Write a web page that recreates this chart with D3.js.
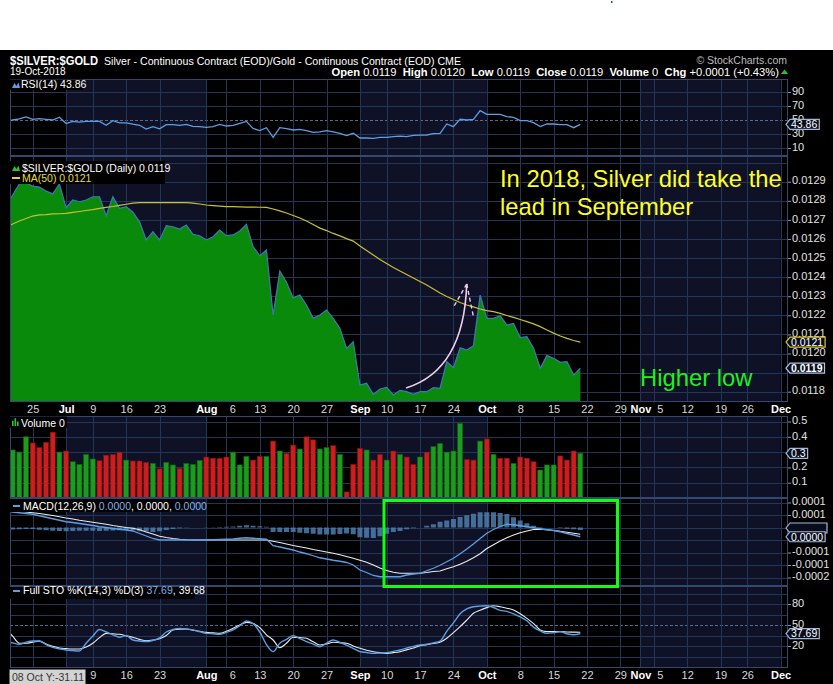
<!DOCTYPE html>
<html><head><meta charset="utf-8">
<script src="https://cdn.jsdelivr.net/npm/d3@7/dist/d3.min.js"></script>
<style>
html,body{margin:0;padding:0;background:#fff;}
svg{display:block;font-family:"Liberation Sans",Arial,sans-serif;}
</style></head><body>
<svg id="chart" width="833" height="684"></svg>
<script>
// ---------------- DATA ----------------
const firstDay = "2018-06-19", lastAxisDay = "2018-12-04";
const holidays = ["2018-07-04","2018-09-03","2018-11-22"];

const price = [0.012773,0.012830,0.012888,0.012893,0.012877,0.012872,0.012851,0.012836,0.012888,
0.012764,0.012804,0.012795,0.012804,0.012821,0.012821,0.012722,0.012821,0.012761,0.012769,0.012740,0.012690,0.012595,0.012638,0.012595,0.012670,0.012664,0.012652,0.012673,0.012624,0.012617,
0.012595,0.012612,0.012647,0.012617,0.012621,0.012642,0.012677,0.012560,0.012512,0.012542,0.012202,0.012432,0.012373,0.012292,0.012306,0.012254,0.012184,0.012202,0.012228,0.012184,0.012132,0.012027,0.012062,
0.011835,0.011844,0.011786,0.011814,0.011823,0.011783,0.011807,0.011800,0.011786,0.011800,0.011800,0.011821,0.011818,0.011957,0.011926,0.012030,0.012018,0.012041,0.012306,
0.012184,0.012184,0.012198,0.012149,0.012158,0.012083,0.012088,0.012027,0.011923,0.011989,0.011975,0.011954,0.011957,0.011887,0.011923];

const ma50 = [0.012663,0.012678,0.012694,0.012707,0.012720,0.012726,0.012728,0.012731,0.012732,
0.012734,0.012739,0.012744,0.012749,0.012754,0.012760,0.012765,0.012770,0.012776,0.012782,0.012788,0.012790,0.012790,0.012790,0.012790,0.012790,0.012790,0.012790,0.012790,0.012788,0.012783,
0.012778,0.012775,0.012772,0.012769,0.012769,0.012768,0.012767,0.012767,0.012766,0.012765,0.012757,0.012747,0.012736,0.012723,0.012710,0.012694,0.012676,0.012657,0.012644,0.012629,0.012616,0.012602,0.012589,
0.012563,0.012540,0.012516,0.012492,0.012472,0.012451,0.012432,0.012414,0.012396,0.012377,0.012359,0.012338,0.012317,0.012299,0.012283,0.012267,0.012254,0.012244,0.012233,
0.012225,0.012219,0.012210,0.012199,0.012189,0.012178,0.012167,0.012155,0.012141,0.012123,0.012107,0.012092,0.012079,0.012068,0.012060];

const rsi = [48,50,51.5,54.5,51,52,51,50,54,
45,48,47,48,48,48,42.5,49,46,46,44,42.5,37,40.5,37.5,43.3,43.3,42.4,43.8,41,40.5,
39.5,40.5,43.8,41.4,42.4,45.2,48,38,34.8,39,25.2,39,37.6,35.7,36.7,34.8,32.4,32.9,34.8,32.9,31,27.6,31,
24.3,24.3,23.8,25.2,25.2,26.2,27.1,26.2,28.1,28.3,28.6,30.5,31,44.3,40.5,51,50,51,63.3,
58.1,58.1,58.1,54.8,53.8,49,49,46.2,40.5,44.3,44.3,43.3,43.3,39,43.86];

const volume = [0.30,0.314,0.30,0.40,0.36,0.33,0.364,0.43,0.30,
0.307,0.237,0.22,0.285,0.255,0.244,0.28,0.285,0.30,0.248,0.242,0.242,0.233,0.226,0.19,0.233,0.216,0.194,0.226,0.22,0.246,
0.268,0.26,0.26,0.268,0.30,0.216,0.272,0.248,0.272,0.272,0.372,0.307,0.292,0.346,0.32,0.40,0.38,0.32,0.33,0.342,0.285,0.04,0.22,
0.325,0.314,0.248,0.285,0.248,0.307,0.285,0.268,0.22,0.268,0.30,0.336,0.357,0.30,0.307,0.488,0.253,0.248,0.372,
0.386,0.285,0.26,0.26,0.226,0.268,0.26,0.237,0.183,0.216,0.216,0.275,0.248,0.307,0.292];
// 1 = up (green), 0 = down (red)
const volUp = [1,1,1,1,0,0,0,0,1,
0,1,1,1,1,0,0,0,0,1,0,0,0,1,0,1,1,0,1,1,1,
0,0,0,0,1,1,1,0,0,1,0,1,0,0,1,0,0,1,1,0,1,0,0,
0,1,0,0,1,0,1,0,0,1,0,1,1,1,1,1,0,0,
1,0,1,0,0,1,0,0,0,1,1,1,0,0,0,1];

const macd = [6.5e-5,6.2e-5,5.9e-5,5.6e-5,5.3e-5,4.7e-5,4.1e-5,3.5e-5,2.9e-5,
2.3e-5,2.0e-5,1.6e-5,1.2e-5,0.8e-5,0.3e-5,0,-0.4e-5,-0.7e-5,-1.0e-5,-1.4e-5,-2.4e-5,-3.4e-5,-4.4e-5,-5e-5,-5e-5,-5e-5,-5e-5,-5e-5,-5e-5,-5e-5,
-4.9e-5,-4.9e-5,-4.8e-5,-4.7e-5,-4.6e-5,-4.3e-5,-4.1e-5,-4.3e-5,-4.5e-5,-4.7e-5,-7.3e-5,-7.8e-5,-8.4e-5,-9e-5,-9.8e-5,-10.5e-5,-11.3e-5,-12.1e-5,-12.6e-5,-13.1e-5,-13.5e-5,-14e-5,-15e-5,
-17e-5,-18e-5,-19.2e-5,-19.7e-5,-19.7e-5,-19.7e-5,-19.7e-5,-19.0e-5,-18.6e-5,-18.3e-5,-17.3e-5,-16.3e-5,-15.1e-5,-13.7e-5,-12.3e-5,-10.5e-5,-8.6e-5,-6.6e-5,-4.4e-5,
-2.3e-5,-0.8e-5,0.4e-5,1.3e-5,1.1e-5,0.7e-5,0.3e-5,-0.1e-5,-0.5e-5,-0.9e-5,-1.2e-5,-1.7e-5,-2.4e-5,-3.0e-5,-3.7e-5];

const macdSignal = [7.2e-5,7.0e-5,6.6e-5,6.2e-5,5.9e-5,5.6e-5,5.2e-5,4.8e-5,4.3e-5,
3.8e-5,3.4e-5,2.9e-5,2.5e-5,2.1e-5,1.7e-5,1.3e-5,0.8e-5,0.4e-5,0,-0.3e-5,-0.9e-5,-1.8e-5,-2.6e-5,-3.5e-5,-4.0e-5,-4.4e-5,-4.7e-5,-4.9e-5,-5e-5,-5e-5,
-5e-5,-5e-5,-5e-5,-5e-5,-5e-5,-5e-5,-5e-5,-5e-5,-5e-5,-5e-5,-5.5e-5,-6e-5,-6.6e-5,-7.2e-5,-7.7e-5,-8.2e-5,-8.8e-5,-9.3e-5,-9.8e-5,-10.3e-5,-10.9e-5,-11.6e-5,-12.3e-5,
-13.1e-5,-13.9e-5,-15e-5,-16.2e-5,-17.2e-5,-17.9e-5,-18.3e-5,-18.3e-5,-18.3e-5,-18.3e-5,-18.0e-5,-17.6e-5,-17.4e-5,-16.5e-5,-15.7e-5,-14.7e-5,-13.5e-5,-12.1e-5,-10.5e-5,
-8.4e-5,-6.9e-5,-5.4e-5,-4.1e-5,-3.0e-5,-2.1e-5,-1.4e-5,-0.8e-5,-0.7e-5,-0.9e-5,-1.2e-5,-1.5e-5,-1.9e-5,-2.3e-5,-2.7e-5];

const stoK = [27,24.5,22.4,25.5,27.1,27.1,22,18,16,
14.3,13.5,12.9,24,34,43.5,40,36,32.5,34.8,28.6,27.2,26.2,28,31.5,40,43.5,45.2,44.5,43,40.5,
38.1,37.5,36.7,39.5,43,49,55.7,52,40,22,12,24,29.5,34.8,30.5,26.3,22.7,19,24,28.6,25,21.4,16.5,
12,10.7,9.5,10,10.5,12.4,14.3,17,19.5,21.4,22.5,24.5,27.1,41,53,66,73,76,77,
77.6,75,71,69.5,66,61.5,56,47,41.5,38.1,39,40.5,37.5,36,37.69];

const stoD = [45,34,24,23.9,25.5,27,23,19.5,17,
16.2,15.7,15.7,18.5,24,32,38.1,37.4,36.7,34.5,32.4,29.5,27.6,28.5,30.5,35,42.9,44,44.3,42.5,41,
39.5,38.8,38.1,41,45.2,50,53.8,52,46.2,36,28.6,17.6,24,32.4,32,31,26,21.4,23,25.3,24.6,24,20,
16.7,14,11.9,10.5,9.5,10.5,11.9,14.5,17,20.5,22,23.5,25.3,31,39,47.6,57,66.7,71,
74.8,77.6,76,74,71.4,66,59.5,52,43,40.5,40.5,40.5,40,39.8,39.68];

const tickDates = ["2018-06-25","2018-07-02","2018-07-09","2018-07-16","2018-07-23","2018-08-01","2018-08-06","2018-08-13","2018-08-20","2018-08-27","2018-09-04","2018-09-10","2018-09-17","2018-09-24","2018-10-01","2018-10-08","2018-10-15","2018-10-22","2018-10-29","2018-11-01","2018-11-05","2018-11-12","2018-11-19","2018-11-26","2018-12-03"];
const tickLabels = ["25","Jul","9","16","23","Aug","6","13","20","27","Sep","10","17","24","Oct","8","15","22","29","Nov","5","12","19","26","Dec"];

const priceTicks = [0.0118,0.0120,0.0121,0.0122,0.0123,0.0124,0.0125,0.0126,0.0127,0.0128,0.0129];
const priceGrid = [0.0118,0.0119,0.0120,0.0121,0.0122,0.0123,0.0124,0.0125,0.0126,0.0127,0.0128,0.0129,0.0130];
const rsiTicks = [10,30,50,70,90];
const volTicks = [0.1,0.2,0.4,0.5];
const volGrid = [0.1,0.2,0.3,0.4,0.5];
const macdTicks = [0.0001,0.00005,-0.0001,-0.00015,-0.0002];
const macdTickLabels = ["0.0001","0.0001","-0.0001","-0.0001","-0.0002"];
const macdGrid = [0.0001,0.00005,0,-0.00005,-0.0001,-0.00015,-0.0002];
const stoTicks = [20,50,80];
const stoGrid = [5,20,35,50,65,80,95];

// ---------------- SETUP ----------------
const W = 833, H = 684, L = 10, R = 788;
const C = {navy:"#0f1127", grid:"#233656", border:"#34486e", txt:"#e2e2e2",
  green:"#0a8a0a", priceLine:"#3f78b8", ma:"#cbbf34", blue:"#5b9fe4", white:"#ececec"};
const P = {rsi:[79,156], main:[156,402], vol:[416,498], macd:[498,586], sto:[586,668]};

const svg = d3.select("#chart");
svg.append("rect").attr("width",W).attr("height",H).attr("fill","#fff");
svg.append("rect").attr("y",50).attr("width",W).attr("height",H-50).attr("fill","#000");
svg.append("rect").attr("x",611).attr("y",1).attr("width",1.5).attr("height",2).attr("fill","#2a4fc0");

const fmtDay = d3.timeFormat("%Y-%m-%d");
const parse = d3.timeParse("%Y-%m-%d");
const cal = d3.timeDay.range(parse(firstDay), d3.timeDay.offset(parse(lastAxisDay),1))
  .filter(d => d.getDay()!==0 && d.getDay()!==6 && !holidays.includes(fmtDay(d))).map(fmtDay);
const di = s => cal.indexOf(s);
const x = d3.scaleLinear().domain([0.6,117.1]).range([L,R]);
const n = price.length;

const tickIdx = tickDates.map(di);
const mStarts = [];
cal.forEach((d,i)=>{ if(i>0 && d.slice(5,7)!==cal[i-1].slice(5,7)) mStarts.push(i); });
const bands = [];
mStarts.forEach((s,k)=>{
  const m = +cal[s].slice(5,7);
  if (m % 2 === 1) { const e = k+1 < mStarts.length ? mStarts[k+1] : 117.1; bands.push([s,e]); }
});

const defs = svg.append("defs");
function panel(key, yScale, grid, dashVal){
  const [t,b] = P[key];
  const g = svg.append("g");
  bands.forEach(([a,c])=>{
    const x0 = Math.max(L,x(a)), x1 = Math.min(R,x(c));
    g.append("rect").attr("x",x0).attr("y",t).attr("width",x1-x0).attr("height",b-t).attr("fill",C.navy);
  });
  grid.forEach(v=>{
    const yy = Math.round(yScale(v))+0.5;
    if (yy<t || yy>b) return;
    g.append("line").attr("x1",L).attr("x2",R).attr("y1",yy).attr("y2",yy)
      .attr("stroke", v===dashVal ? "#5a6a88" : C.grid).attr("stroke-width",1)
      .attr("stroke-dasharray", v===dashVal ? "3,2" : null);
  });
  tickIdx.forEach(i=>{
    const xx = Math.round(x(i))+0.5;
    g.append("line").attr("x1",xx).attr("x2",xx).attr("y1",t).attr("y2",b).attr("stroke",C.grid);
  });
  g.append("rect").attr("x",L+0.5).attr("y",t+0.5).attr("width",R-L-1).attr("height",b-t-1)
    .attr("fill","none").attr("stroke",C.border);
  defs.append("clipPath").attr("id","clip-"+key).append("rect").attr("x",L+1).attr("y",t+1).attr("width",R-L-2).attr("height",b-t-2);
  return svg.append("g").attr("clip-path","url(#clip-"+key+")");
}
function rightAxis(yScale, vals, labels){
  const ax = d3.axisRight(yScale).tickValues(vals).tickSize(3).tickPadding(1)
    .tickFormat((d,i)=>labels ? labels[i] : d);
  const g = svg.append("g").attr("transform",`translate(${R},0)`).call(ax);
  g.select(".domain").remove();
  g.selectAll("line").attr("stroke","#8a93a8");
  g.selectAll("text").attr("fill",C.txt).attr("font-size",11).attr("dy","0.2em")
    .attr("font-family","'Liberation Sans',Arial,sans-serif");
  return g;
}
function valueBox(cy, text, stroke, bold){
  const g = svg.append("g");
  const p = g.append("path");
  let w = 34;
  if (text) {
    const t = g.append("text").attr("x",791).attr("y",cy+3.8).attr("fill","#fff").attr("font-size",10.5)
      .attr("font-weight",bold?"bold":null).text(text);
    w = t.node().getComputedTextLength();
    t.raise();
  }
  p.attr("d",`M786,${cy} L790,${cy-5} L${793+w},${cy-5} L${793+w},${cy+5} L790,${cy+5} Z`)
    .attr("fill","#0a0e1c").attr("stroke",stroke).attr("stroke-width",1.2);
}
function legendBox(x0,y0,w,h){ svg.append("rect").attr("x",x0).attr("y",y0).attr("width",w).attr("height",h).attr("fill","#000"); }

// ---------------- HEADER ----------------
svg.append("text").attr("x",10).attr("y",64.5).attr("fill","#fff").attr("font-size",12).attr("font-weight","bold")
  .attr("textLength",88).attr("lengthAdjust","spacingAndGlyphs").text("$SILVER:$GOLD");
svg.append("text").attr("x",104).attr("y",64.5).attr("fill","#fff").attr("font-size",11)
  .attr("textLength",357).attr("lengthAdjust","spacingAndGlyphs")
  .text("Silver - Continuous Contract (EOD)/Gold - Continuous Contract (EOD) CME");
svg.append("text").attr("x",787).attr("y",63.5).attr("text-anchor","end").attr("fill","#bdbdbd").attr("font-size",10.5).text("© StockCharts.com");
svg.append("text").attr("x",10).attr("y",75).attr("fill","#fff").attr("font-size",10).text("19-Oct-2018");
const ohlc = svg.append("text").attr("x",779).attr("y",75.5).attr("text-anchor","end").attr("fill","#fff").attr("font-size",11.2);
[["Open",1],[" 0.0119  ",0],["High",1],[" 0.0120  ",0],["Low",1],[" 0.0119  ",0],["Close",1],[" 0.0119  ",0],["Volume",1],[" 0  ",0],["Chg",1],[" +0.0001 (+0.43%)",0]]
  .forEach(([s,b])=> ohlc.append("tspan").attr("font-weight",b?"bold":null).attr("xml:space","preserve").text(s));
svg.append("path").attr("d","M781,74 L784.5,69.5 L788,74 Z").attr("fill","#2fbf2f");

// ---------------- RSI ----------------
const yR = d3.scaleLinear().domain([0,100]).range([155,85]);
const gR = panel("rsi", yR, rsiTicks, 50);
gR.append("path").datum(rsi).attr("fill","none").attr("stroke",C.blue).attr("stroke-width",1.3)
  .attr("d", d3.line().x((d,i)=>x(i)).y(d=>yR(d)));
rightAxis(yR, rsiTicks);
legendBox(10,79.5,73,10.5);
svg.append("path").attr("d","M12,88 L14.5,83 L16.5,86 L18.5,82.5 L20,88 Z").attr("fill","#5b9fe4");
svg.append("text").attr("x",21).attr("y",88).attr("fill","#fff").attr("font-size",10.5).text("RSI(14) 43.86");
valueBox(yR(rsi[n-1]), "43.86", "#9fb7d8");

// ---------------- MAIN PRICE ----------------
const yM = d3.scaleLinear().domain([0.0118,0.0130]).range([391.7,162.6]);
const gM = panel("main", yM, priceGrid, null);
gM.append("path").datum(price).attr("fill",C.green)
  .attr("d", d3.area().x((d,i)=>x(i)).y0(P.main[1]).y1(d=>yM(d)));
gM.append("path").datum(price).attr("fill","none").attr("stroke",C.priceLine).attr("stroke-width",1.2)
  .attr("d", d3.line().x((d,i)=>x(i)).y(d=>yM(d)));
gM.append("path").datum(ma50).attr("fill","none").attr("stroke",C.ma).attr("stroke-width",1.2)
  .attr("d", d3.line().x((d,i)=>x(i)).y(d=>yM(d)));
rightAxis(yM, priceTicks, priceTicks.map(d3.format(".4f")));
legendBox(10,161,155,23);
svg.append("path").attr("d","M12,171 L14.5,166 L16.5,169 L18.5,165.5 L20,171 Z").attr("fill","#2fbf2f");
svg.append("text").attr("x",22).attr("y",171.5).attr("fill","#fff").attr("font-size",10.5).text("$SILVER:$GOLD (Daily) 0.0119");
svg.append("rect").attr("x",12).attr("y",177).attr("width",8).attr("height",2).attr("fill","#e0d23a");
svg.append("text").attr("x",22).attr("y",182).attr("fill","#e6dc3c").attr("font-size",10.5).text("MA(50) 0.0121");
valueBox(yM(ma50[n-1]), "0.0121", "#d6c832");
valueBox(yM(price[n-1]), "0.0119", "#a8c4e6", true);

// annotations
svg.append("text").attr("x",500).attr("y",187).attr("fill","#ffff22").attr("font-size",23.8).text("In 2018, Silver did take the");
svg.append("text").attr("x",500).attr("y",214.5).attr("fill","#ffff22").attr("font-size",23.8).text("lead in September");
svg.append("text").attr("x",640).attr("y",385.5).attr("fill","#22ee22").attr("font-size",23.8).text("Higher low");
svg.append("path").attr("d","M406,388 Q464,370 466.7,284").attr("fill","none").attr("stroke","#f2cdea").attr("stroke-width",1.6);
svg.append("path").attr("d","M466.7,284 L453,308 M466.7,284 L473.5,317").attr("fill","none").attr("stroke","#f2cdea").attr("stroke-width",1.4).attr("stroke-dasharray","4,3");

// ---------------- VOLUME ----------------
const yV = d3.scaleLinear().domain([0,0.5]).range([498,421.5]);
const gV = panel("vol", yV, volGrid, null);
gV.selectAll("rect.v").data(volume).enter().append("rect")
  .attr("x",(d,i)=>x(i)-2.5).attr("width",5).attr("y",d=>yV(d)).attr("height",d=>yV(0)-yV(d))
  .attr("fill",(d,i)=>volUp[i]?"#1c9c1c":"#cc1e1e")
  .attr("stroke",(d,i)=>volUp[i]?"#0f5f0f":"#7a1010").attr("stroke-width",0.6);
rightAxis(yV, volTicks, volTicks.map(d3.format(".1f")));
legendBox(10,416.5,57,11);
[[12,4],[14.5,6],[17,3.5]].forEach(([xx,h])=>svg.append("rect").attr("x",xx).attr("y",426-h*1.3).attr("width",1.6).attr("height",h*1.3).attr("fill","#2fbf2f"));
svg.append("text").attr("x",21).attr("y",426.5).attr("fill","#fff").attr("font-size",10.5).text("Volume 0");
valueBox(yV(volume[n-1]), "0.3", "#9fb7d8");

// ---------------- MACD ----------------
const yC = d3.scaleLinear().domain([-0.0002,0.0001]).range([577.5,502.5]);
const gC = panel("macd", yC, macdGrid, null);
const hist = macd.map((d,i)=>d - macdSignal[i]);
gC.selectAll("rect.h").data(hist).enter().append("rect")
  .attr("x",(d,i)=>x(i)-2.5).attr("width",5)
  .attr("y",d=>Math.min(yC(0),yC(d))).attr("height",d=>Math.abs(yC(d)-yC(0)))
  .attr("fill","#4d7eae").attr("fill-opacity",0.85);
gC.append("path").datum(macdSignal).attr("fill","none").attr("stroke",C.white).attr("stroke-width",1.1)
  .attr("d", d3.line().x((d,i)=>x(i)).y(d=>yC(d)));
gC.append("path").datum(macd).attr("fill","none").attr("stroke",C.blue).attr("stroke-width",1.3)
  .attr("d", d3.line().x((d,i)=>x(i)).y(d=>yC(d)));
rightAxis(yC, macdTicks, macdTickLabels);
legendBox(10,499,182,13);
svg.append("rect").attr("x",13).attr("y",505).attr("width",7).attr("height",2).attr("fill",C.blue);
const mt = svg.append("text").attr("x",23).attr("y",509.5).attr("font-size",10.5);
[["MACD(12,26,9) ","#fff"],["0.0000","#7fb2e8"],[", 0.0000, ","#fff"],["0.0000","#7fb2e8"]]
  .forEach(([s,c])=>mt.append("tspan").attr("fill",c).attr("xml:space","preserve").text(s));
valueBox(yC(hist[n-1]) - 2, null, "#9fb7d8");
valueBox(yC(macd[n-1]), "0.0000", "#9fb7d8");

// ---------------- STOCHASTICS ----------------
const yS = d3.scaleLinear().domain([0,100]).range([660,590]);
const gS = panel("sto", yS, stoGrid, 50);
gS.append("path").datum(stoD).attr("fill","none").attr("stroke",C.white).attr("stroke-width",1.1)
  .attr("d", d3.line().curve(d3.curveMonotoneX).x((d,i)=>x(i)).y(d=>yS(d)));
gS.append("path").datum(stoK).attr("fill","none").attr("stroke",C.blue).attr("stroke-width",1.4)
  .attr("d", d3.line().curve(d3.curveMonotoneX).x((d,i)=>x(i)).y(d=>yS(d)));
rightAxis(yS, stoTicks);
legendBox(10,587,185,12);
svg.append("rect").attr("x",13).attr("y",590).attr("width",7).attr("height",2).attr("fill",C.blue);
const st = svg.append("text").attr("x",23).attr("y",594).attr("font-size",10.5);
[["Full STO %K(14,3) %D(3) ","#fff"],["37.69","#7fb2e8"],[", 39.68","#fff"]]
  .forEach(([s,c])=>st.append("tspan").attr("fill",c).attr("xml:space","preserve").text(s));
valueBox(yS(stoK[n-1]), "37.69", "#9fb7d8");

// MACD highlight box
svg.append("rect").attr("x",384).attr("y",500.5).attr("width",233.5).attr("height",86)
  .attr("fill","none").attr("stroke","#11ff11").attr("stroke-width",3);

// ---------------- X AXES ----------------
function xAxis(yPos, minX){
  const keep = tickIdx.map((t,i)=>i).filter(i=>x(tickIdx[i]) > minX);
  const ax = d3.axisBottom(x).tickValues(keep.map(i=>tickIdx[i])).tickSize(0).tickPadding(3)
    .tickFormat((d,k)=>tickLabels[keep[k]]);
  const g = svg.append("g").attr("transform",`translate(0,${yPos})`).call(ax);
  g.select(".domain").remove();
  g.selectAll("text").attr("font-size",11).attr("font-family","'Liberation Sans',Arial,sans-serif")
    .each(function(d,k){
      const i = keep[k];
      const isM = /[A-Za-z]/.test(tickLabels[i]);
      const shift = i>0 && /[A-Za-z]/.test(tickLabels[i-1]) && tickIdx[i]-tickIdx[i-1]<=3 ? 6 : 0;
      d3.select(this).attr("fill",isM?"#fff":"#d8d8d8").attr("font-weight",isM?"bold":null).attr("dx",shift);
    });
}
xAxis(P.main[1], 0);
xAxis(P.sto[1], 88);

// crosshair readout
svg.append("rect").attr("x",9.5).attr("y",669.5).attr("width",76).attr("height",14.5).attr("fill","#d3d3d3");
svg.append("text").attr("x",12).attr("y",680.5).attr("fill","#333").attr("font-size",10.5).text("08 Oct Y:-31.11");
</script></body></html>
